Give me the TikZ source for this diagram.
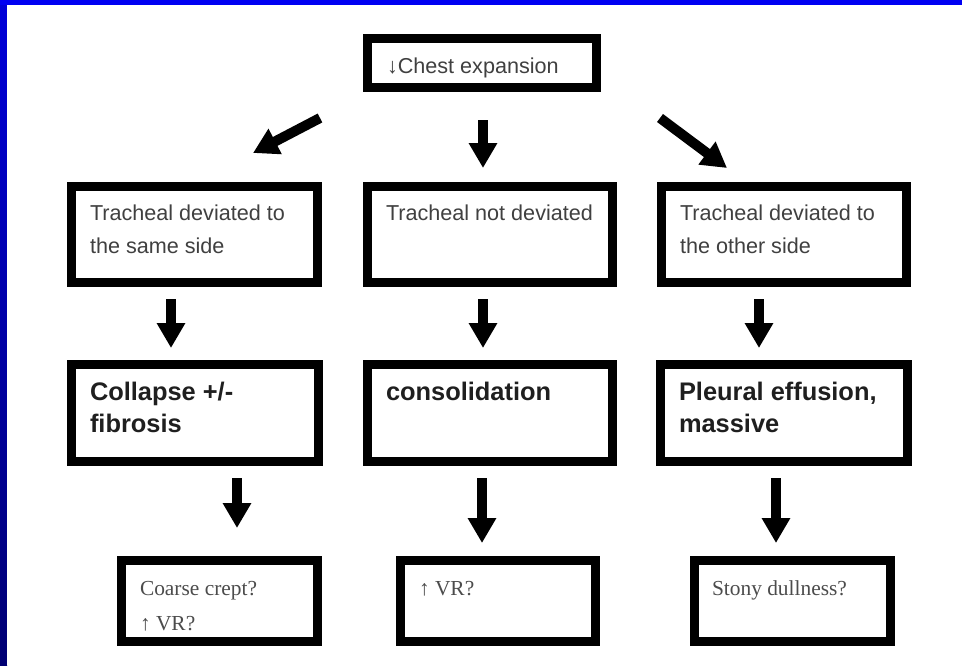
\documentclass[tikz,border=0pt]{standalone}
\usepackage{fontspec}
\setmainfont{Liberation Sans}
\newfontfamily\trfont{Liberation Serif}
\usetikzlibrary{arrows.meta}
\newcommand{\bxt}[6]{\parbox[c][#2][t]{#1}{\raggedright\leftskip=#3\relax\parindent=0pt #5\rule{0pt}{#4}#6\par}}
\newcommand{\txreg}{\fontsize{21.6}{33.5}\selectfont\color{black!75}}
\newcommand{\txbold}{\fontsize{25.4}{32}\selectfont\bfseries\color{black!88}}
\newcommand{\txser}{\trfont\fontsize{21.4}{35}\selectfont\color{black!70}}
\tikzset{
  thickbox/.style={draw=black, line width=9pt, fill=white, inner sep=0pt},
  bigarrow/.style={line width=10pt, -{Triangle[width=27pt,length=25pt]}},
}
\begin{document}
\begin{tikzpicture}[x=1pt, y=-1pt]
\useasboundingbox (0,0) rectangle (962,665);
% background frame
\fill[blue!95!black] (0,0) rectangle (962,665);
\shade[top color=blue!85!black, bottom color=blue!45!black] (0,5) rectangle (7,665);
\fill[white] (7,5) rectangle (962,665);
% boxes
\node[thickbox] (top) at (482,63) {\bxt{229pt}{49pt}{19.5pt}{34.5pt}{\txreg}{↓Chest expansion}};
\node[thickbox] (r2l) at (194.5,234.5) {\bxt{246pt}{96pt}{18.5pt}{33.5pt}{\txreg}{Tracheal deviated to\\the same side}};
\node[thickbox] (r2m) at (490,234.5) {\bxt{245pt}{96pt}{18.5pt}{33.5pt}{\txreg}{Tracheal not deviated}};
\node[thickbox] (r2r) at (784,234.5) {\bxt{245pt}{96pt}{18.5pt}{33.5pt}{\txreg}{Tracheal deviated to\\the other side}};
\node[thickbox] (r3l) at (195,413) {\bxt{247pt}{97pt}{18.5pt}{35.5pt}{\txbold}{Collapse +/-\\fibrosis}};
\node[thickbox] (r3m) at (490,413) {\bxt{245pt}{97pt}{18.5pt}{35.5pt}{\txbold}{consolidation}};
\node[thickbox] (r3r) at (784,413) {\bxt{247pt}{97pt}{18.5pt}{35.5pt}{\txbold}{Pleural effusion,\\massive}};
\node[thickbox] (r4l) at (219.5,601) {\bxt{196pt}{81pt}{18.5pt}{34.5pt}{\txser}{Coarse crept?\\↑ VR?}};
\node[thickbox] (r4m) at (498,601) {\bxt{195pt}{81pt}{18.5pt}{34.5pt}{\txser}{↑ VR?}};
\node[thickbox] (r4r) at (792.5,601) {\bxt{196pt}{81pt}{17.5pt}{34.5pt}{\txser}{Stony dullness?}};
% arrows top -> row 2
\draw[bigarrow] ([shift={(-43,26)}]top.south west) -- ([shift={(-69,-29)}]r2l.north east);
\path ([xshift=1pt]top.south) coordinate (a0s);
\draw[bigarrow, shorten <=28pt, shorten >=14pt] (a0s) -- (a0s |- r2m.north);
\draw[bigarrow] ([shift={(59,26)}]top.south east) -- ([shift={(70,-14)}]r2r.north west);
% arrows row 2 -> row 3
\path ([xshift=-23.5pt]r2l.south) coordinate (a1l);
\path ([xshift=-7pt]r2m.south) coordinate (a1m);
\path ([xshift=-25pt]r2r.south) coordinate (a1r);
\draw[bigarrow, shorten <=12pt, shorten >=12pt] (a1l) -- (a1l |- r3l.north);
\draw[bigarrow, shorten <=12pt, shorten >=12pt] (a1m) -- (a1m |- r3m.north);
\draw[bigarrow, shorten <=12pt, shorten >=12pt] (a1r) -- (a1r |- r3r.north);
% arrows row 3 -> row 4
\path ([xshift=42pt]r3l.south) coordinate (a2l);
\path ([xshift=-8pt]r3m.south) coordinate (a2m);
\path ([xshift=-8pt]r3r.south) coordinate (a2r);
\draw[bigarrow, shorten <=12pt, shorten >=28pt] (a2l) -- (a2l |- r4l.north);
\draw[bigarrow, shorten <=12pt, shorten >=13pt] (a2m) -- (a2m |- r4m.north);
\draw[bigarrow, shorten <=12pt, shorten >=13pt] (a2r) -- (a2r |- r4r.north);
\end{tikzpicture}
\end{document}
